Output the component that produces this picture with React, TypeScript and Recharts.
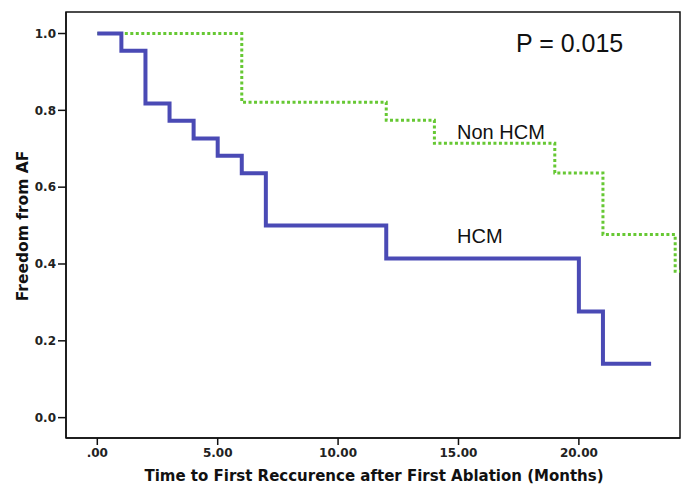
import { Line, LineChart, ReferenceArea, XAxis, YAxis } from "recharts";

const hcmMonths = [0, 1, 2, 3, 4, 5, 6, 7, 12, 20, 21, 23];
const hcmSurvival = [1, 0.955, 0.818, 0.773, 0.727, 0.682, 0.636, 0.5, 0.414, 0.276, 0.14, 0.14];

const nonHcmMonths = [0, 6, 12, 14, 19, 21, 24, 24.2];
const nonHcmSurvival = [1, 0.821, 0.774, 0.714, 0.637, 0.477, 0.381, 0.381];

const xTicks = [0, 5, 10, 15, 20];
const yTicks = [0, 0.2, 0.4, 0.6, 0.8, 1.0];
const xDomain: [number, number] = [-1.3, 24.2];
const yDomain: [number, number] = [-0.053, 1.056];

const hcm = hcmMonths.map((t, i) => ({ t, s: hcmSurvival[i] }));
const nonHcm = nonHcmMonths.map((t, i) => ({ t, s: nonHcmSurvival[i] }));

const tickStyle = {
  fill: "#222",
  fontSize: 12,
  fontWeight: 700,
  fontFamily: "DejaVu Sans",
};

const titleFont = "DejaVu Sans";
const noteFont = "Liberation Sans, Arial, sans-serif";

export default function App() {
  return (
    <div style={{ position: "absolute", left: 0, top: 0, background: "#fff" }}>
      <LineChart
        width={686}
        height={484}
        margin={{ top: 12, right: 6, left: 10, bottom: 0 }}
      >
        <XAxis
          type="number"
          dataKey="t"
          domain={xDomain}
          ticks={xTicks}
          allowDataOverflow
          tickFormatter={(v: number) => (v === 0 ? ".00" : v.toFixed(2))}
          tick={tickStyle}
          tickSize={7}
          tickMargin={3}
          axisLine={{ stroke: "#111", strokeWidth: 1.5 }}
          tickLine={{ stroke: "#111", strokeWidth: 1.5 }}
          height={46}
        />
        <YAxis
          type="number"
          dataKey="s"
          domain={yDomain}
          ticks={yTicks}
          allowDataOverflow
          tickFormatter={(v: number) => v.toFixed(1)}
          tick={tickStyle}
          tickSize={8}
          tickMargin={2}
          axisLine={{ stroke: "#111", strokeWidth: 1.5 }}
          tickLine={{ stroke: "#111", strokeWidth: 1.5 }}
          width={56}
        />
        <ReferenceArea
          x1={xDomain[0]}
          x2={xDomain[1]}
          y1={yDomain[0]}
          y2={yDomain[1]}
          fill="none"
          stroke="#111"
          strokeWidth={1.5}
          fillOpacity={0}
          strokeOpacity={1}
        />
        <Line
          data={nonHcm}
          dataKey="s"
          type="stepAfter"
          stroke="#66c833"
          strokeWidth={3}
          strokeDasharray="3 2.5"
          dot={false}
          isAnimationActive={false}
        />
        <Line
          data={hcm}
          dataKey="s"
          type="stepAfter"
          stroke="#4a4ab5"
          strokeWidth={4}
          dot={false}
          isAnimationActive={false}
        />
        <text x={516} y={52} fontSize={25} fontFamily={noteFont} fill="#111">
          P = 0.015
        </text>
        <text x={457} y={139} fontSize={20} fontFamily={noteFont} fill="#111">
          Non HCM
        </text>
        <text x={457} y={243} fontSize={20} fontFamily={noteFont} fill="#111">
          HCM
        </text>
        <text
          x={374}
          y={481}
          textAnchor="middle"
          fontSize={15}
          fontWeight={700}
          fontFamily={titleFont}
          fill="#111"
        >
          Time to First Reccurence after First Ablation (Months)
        </text>
        <text
          transform="translate(28,226) rotate(-90)"
          textAnchor="middle"
          fontSize={15.5}
          fontWeight={700}
          fontFamily={titleFont}
          fill="#111"
        >
          Freedom from AF
        </text>
      </LineChart>
    </div>
  );
}
